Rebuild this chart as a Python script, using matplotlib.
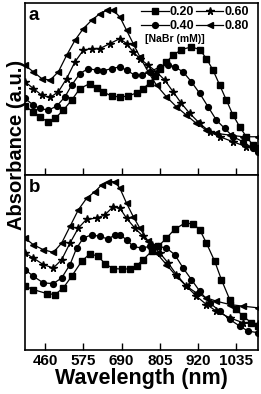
import matplotlib
matplotlib.use('Agg')
import matplotlib.pyplot as plt

plt.rcParams['font.family'] = ['Liberation Sans', 'DejaVu Sans']
plt.rcParams['font.weight'] = 'bold'

# Panel a spectra (wavelength in nm, absorbance in a.u.)
wl_a_020 = [400, 425, 445, 470, 490, 515, 540, 565, 595, 615, 635, 660, 685, 710, 735, 755, 775,
            790, 805, 825, 845, 870, 900, 925, 945, 965, 985, 1005, 1025, 1045, 1065, 1085, 1100]
abs_a_020 = [0.414, 0.380, 0.346, 0.320, 0.340, 0.390, 0.450, 0.520, 0.550, 0.526, 0.500, 0.474,
             0.470, 0.474, 0.494, 0.520, 0.554, 0.594, 0.640, 0.680, 0.720, 0.754, 0.770, 0.754,
             0.700, 0.630, 0.540, 0.450, 0.360, 0.290, 0.230, 0.180, 0.160]
wl_a_040 = [400, 425, 445, 470, 495, 520, 540, 565, 590, 615, 635, 660, 685, 705, 730, 750, 775,
            805, 830, 850, 875, 900, 925, 950, 975, 1000, 1025, 1055, 1085, 1100]
abs_a_040 = [0.460, 0.420, 0.400, 0.390, 0.414, 0.470, 0.540, 0.610, 0.640, 0.630, 0.626, 0.640,
             0.650, 0.630, 0.600, 0.600, 0.620, 0.650, 0.664, 0.650, 0.620, 0.560, 0.490, 0.410,
             0.330, 0.280, 0.230, 0.200, 0.160, 0.140]
wl_a_060 = [400, 425, 450, 475, 500, 525, 550, 575, 600, 625, 655, 685, 705, 725, 745, 770, 795,
            820, 845, 870, 895, 925, 955, 985, 1025, 1065, 1100]
abs_a_060 = [0.560, 0.520, 0.480, 0.466, 0.500, 0.580, 0.680, 0.750, 0.760, 0.760, 0.790, 0.820,
             0.790, 0.740, 0.700, 0.660, 0.620, 0.570, 0.500, 0.430, 0.370, 0.310, 0.260, 0.230,
             0.200, 0.170, 0.150]
wl_a_080 = [400, 425, 450, 475, 500, 525, 550, 575, 600, 625, 645, 665, 685, 705, 725, 745, 770,
            795, 825, 855, 885, 915, 945, 975, 1015, 1055, 1100]
abs_a_080 = [0.660, 0.620, 0.580, 0.570, 0.620, 0.720, 0.810, 0.880, 0.930, 0.970, 0.990, 0.990,
             0.950, 0.870, 0.790, 0.710, 0.620, 0.540, 0.470, 0.410, 0.360, 0.310, 0.270, 0.250,
             0.240, 0.230, 0.230]

# Panel b spectra
wl_b_020 = [400, 425, 465, 490, 515, 540, 570, 595, 620, 640, 665, 690, 715, 735, 755, 780, 800,
            825, 850, 880, 905, 925, 945, 970, 990, 1015, 1035, 1055, 1080, 1100]
abs_b_020 = [0.384, 0.364, 0.340, 0.334, 0.374, 0.444, 0.534, 0.580, 0.564, 0.520, 0.490, 0.488,
             0.488, 0.508, 0.544, 0.594, 0.624, 0.674, 0.728, 0.764, 0.760, 0.724, 0.644, 0.534,
             0.424, 0.304, 0.244, 0.204, 0.164, 0.144]
wl_b_040 = [400, 425, 455, 485, 510, 535, 555, 575, 600, 625, 650, 670, 685, 705, 725, 750, 775,
            800, 825, 850, 875, 900, 925, 955, 985, 1015, 1045, 1070, 1100]
abs_b_040 = [0.484, 0.444, 0.404, 0.400, 0.434, 0.514, 0.614, 0.674, 0.694, 0.684, 0.668, 0.694,
             0.694, 0.664, 0.624, 0.614, 0.624, 0.624, 0.614, 0.574, 0.494, 0.424, 0.354, 0.284,
             0.234, 0.184, 0.144, 0.114, 0.104]
wl_b_060 = [400, 425, 455, 485, 510, 535, 560, 585, 615, 640, 665, 685, 705, 730, 755, 780, 805,
            830, 855, 885, 915, 945, 975, 1015, 1055, 1100]
abs_b_060 = [0.584, 0.554, 0.514, 0.494, 0.544, 0.644, 0.734, 0.788, 0.794, 0.814, 0.864, 0.854,
             0.794, 0.734, 0.684, 0.634, 0.584, 0.524, 0.454, 0.384, 0.324, 0.274, 0.234, 0.194,
             0.164, 0.154]
wl_b_080 = [400, 425, 455, 485, 510, 535, 560, 585, 610, 630, 650, 670, 685, 705, 725, 745, 770,
            795, 825, 855, 885, 915, 945, 975, 1015, 1055, 1100]
abs_b_080 = [0.674, 0.634, 0.604, 0.588, 0.644, 0.744, 0.844, 0.914, 0.954, 0.994, 1.014, 1.014,
             0.974, 0.884, 0.804, 0.734, 0.654, 0.584, 0.514, 0.444, 0.384, 0.344, 0.314, 0.294,
             0.274, 0.264, 0.254]

conc_labels = ['0.20', '0.40', '0.60', '0.80']
markers = ['s', 'o', '*', '<']
xticks = [460, 575, 690, 805, 920, 1035]

fig = plt.figure(figsize=(2.61, 3.94), dpi=100)
ax_a = fig.add_axes([0.096, 0.5558, 0.8925, 0.4366])
ax_b = fig.add_axes([0.096, 0.1117, 0.8925, 0.4441])

panels = [
    (ax_a, 'a', [(wl_a_020, abs_a_020), (wl_a_040, abs_a_040), (wl_a_060, abs_a_060), (wl_a_080, abs_a_080)], 1.034),
    (ax_b, 'b', [(wl_b_020, abs_b_020), (wl_b_040, abs_b_040), (wl_b_060, abs_b_060), (wl_b_080, abs_b_080)], 1.054),
]

for ax, letter, series, ytop in panels:
    lines = []
    for (wl, ab), m, lab in zip(series, markers, conc_labels):
        ms = 5.5 if m == '*' else 4.2
        ln, = ax.plot(wl, ab, color='black', lw=0.9, marker=m, ms=ms, label=lab)
        lines.append(ln)
    ax.set_xlim(400, 1100)
    ax.set_ylim(0, ytop)
    ax.set_yticks([])
    ax.set_xticks(xticks)
    ax.tick_params(axis='x', direction='in', length=5, width=1, labelsize=11, pad=3)
    for sp in ax.spines.values():
        sp.set_linewidth(1.2)
    ax.text(0.015, 0.975, letter, transform=ax.transAxes, fontsize=13.5, fontweight='bold',
            ha='left', va='top')
    if letter == 'a':
        ax.set_xticklabels([])
        leg = ax.legend(handles=lines, ncol=2, loc='upper right', frameon=False,
                        fontsize=9, handlelength=2.2, handletextpad=0.1,
                        columnspacing=0.1, labelspacing=0.15, borderaxespad=0.0,
                        borderpad=0.25, bbox_to_anchor=(0.975, 1.0))
        for t in leg.get_texts():
            t.set_fontweight('bold')
        ax.text(0.515, 0.79, '[NaBr (mM)]', transform=ax.transAxes, fontsize=7.5,
                fontweight='bold', ha='left', va='center')

ax_b.set_xlabel('Wavelength (nm)', fontsize=15.5, fontweight='bold', labelpad=0)
fig.text(0.025, 0.632, 'Absorbance (a.u.)', rotation=90, fontsize=14.5,
         fontweight='bold', ha='left', va='center')

fig.savefig('out.png', dpi=100)
